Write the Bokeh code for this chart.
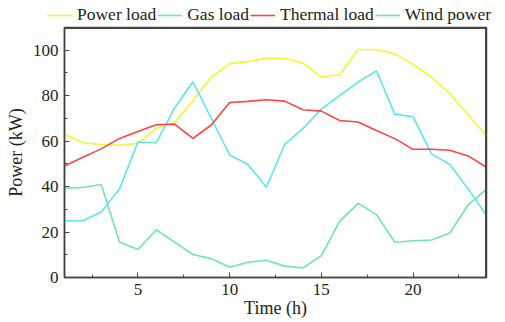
from bokeh.plotting import figure
from bokeh.layouts import column, row
from bokeh.models import Legend, LegendItem, FixedTicker, Range1d
from bokeh.embed import file_html
from bokeh.resources import INLINE

hours = list(range(1, 25))
power_load = [63.0, 59.3, 58.5, 58.2, 59.0, 65.6, 68.1, 77.8, 88.3, 94.1, 95.0, 96.5,
              96.5, 94.3, 88.2, 89.3, 100.3, 100.3, 98.4, 93.9, 88.0, 81.0, 71.5, 62.4]
gas_load = [25.0, 25.0, 28.8, 39.0, 59.6, 59.3, 74.6, 86.1, 70.0, 53.9, 49.7, 39.7,
            58.5, 65.6, 74.1, 80.1, 86.0, 90.9, 71.9, 70.7, 54.4, 49.7, 39.0, 27.3]
thermal_load = [49.1, 52.9, 56.6, 61.2, 64.2, 67.2, 67.5, 61.2, 67.1, 77.0, 77.5, 78.2,
                77.6, 73.8, 73.2, 69.1, 68.4, 64.7, 61.1, 56.4, 56.4, 56.0, 53.5, 48.5]
wind_power = [39.3, 39.6, 40.9, 15.6, 12.3, 21.0, 15.6, 10.1, 8.3, 4.5, 6.7, 7.6,
              5.0, 4.2, 9.6, 24.8, 32.6, 27.8, 15.5, 16.2, 16.5, 19.6, 32.0, 38.9]
series_names = ["Power load", "Gas load", "Thermal load", "Wind power"]
x_ticks = [5, 10, 15, 20]
y_ticks = [0, 20, 40, 60, 80, 100]
x_min, x_max, y_min, y_max = 1, 24, 0, 110

colors = ["#f5f533", "#5ce6f2", "#ff4444", "#70e6a6"]
FONT = "Liberation Serif"
AXC = "#444444"

# legend strip on top
lg = figure(width=505, height=25, output_backend="svg", toolbar_location=None,
            x_range=Range1d(0, 1), y_range=Range1d(0, 1),
            x_axis_location=None, y_axis_location=None,
            min_border_left=0, min_border_right=0, min_border_top=0, min_border_bottom=0)
lg.grid.visible = False
lg.outline_line_color = None
lg_renderers = []
for c in colors:
    lg_renderers.append(lg.line([-5, -4], [-5, -5], line_color=c, line_width=1.6))
items = [LegendItem(label=n, renderers=[r]) for n, r in zip(series_names, lg_renderers)]
legend = Legend(items=items, orientation="horizontal", location=(47, 0),
                glyph_width=25, glyph_height=12, label_standoff=5, spacing=1,
                padding=0, margin=0, border_line_color=None, background_fill_alpha=0,
                label_text_font=FONT, label_text_font_size="17.5px",
                label_text_color="#222222", label_height=16)
lg.add_layout(legend, "center")

p = figure(width=505, height=297, output_backend="svg", toolbar_location=None,
           x_range=Range1d(x_min, x_max), y_range=Range1d(y_min, y_max),
           min_border_left=64, min_border_right=19, min_border_top=2, min_border_bottom=45)
p.grid.visible = False
p.outline_line_color = AXC
p.outline_line_width = 1.5
p.outline_line_alpha = 1.0

for ys, c in zip([power_load, gas_load, thermal_load, wind_power], colors):
    p.line(hours, ys, line_color=c, line_width=1.6)

# top and right edges of the box frame (half of the width falls inside the frame)
p.line([x_min, x_max, x_max], [y_max, y_max, y_min], line_color=AXC, line_width=3)

for ax in (p.xaxis[0], p.yaxis[0]):
    ax.axis_line_color = AXC
    ax.axis_line_width = 1.5
    ax.major_tick_line_color = AXC
    ax.minor_tick_line_color = AXC
    ax.major_tick_in = 5
    ax.major_tick_out = 0
    ax.minor_tick_in = 3
    ax.minor_tick_out = 0
    ax.major_label_text_font = FONT
    ax.major_label_text_font_size = "17px"
    ax.major_label_text_color = "#222222"
    ax.axis_label_text_font = FONT
    ax.axis_label_text_font_size = "18px"
    ax.axis_label_text_font_style = "normal"
    ax.axis_label_text_color = "#222222"

p.xaxis[0].ticker = FixedTicker(ticks=x_ticks, minor_ticks=[2.5, 7.5, 12.5, 17.5, 22.5])
p.yaxis[0].ticker = FixedTicker(ticks=y_ticks, minor_ticks=[10, 30, 50, 70, 90])
p.xaxis[0].axis_label = "Time (h)"
p.yaxis[0].axis_label = "Power (kW)"
p.xaxis[0].major_label_standoff = 6
p.yaxis[0].major_label_standoff = 6
p.xaxis[0].axis_label_standoff = 0
p.yaxis[0].axis_label_standoff = 4

layout = column(row(lg), p, spacing=0)
open("out.html", "w").write(file_html(layout, INLINE))
